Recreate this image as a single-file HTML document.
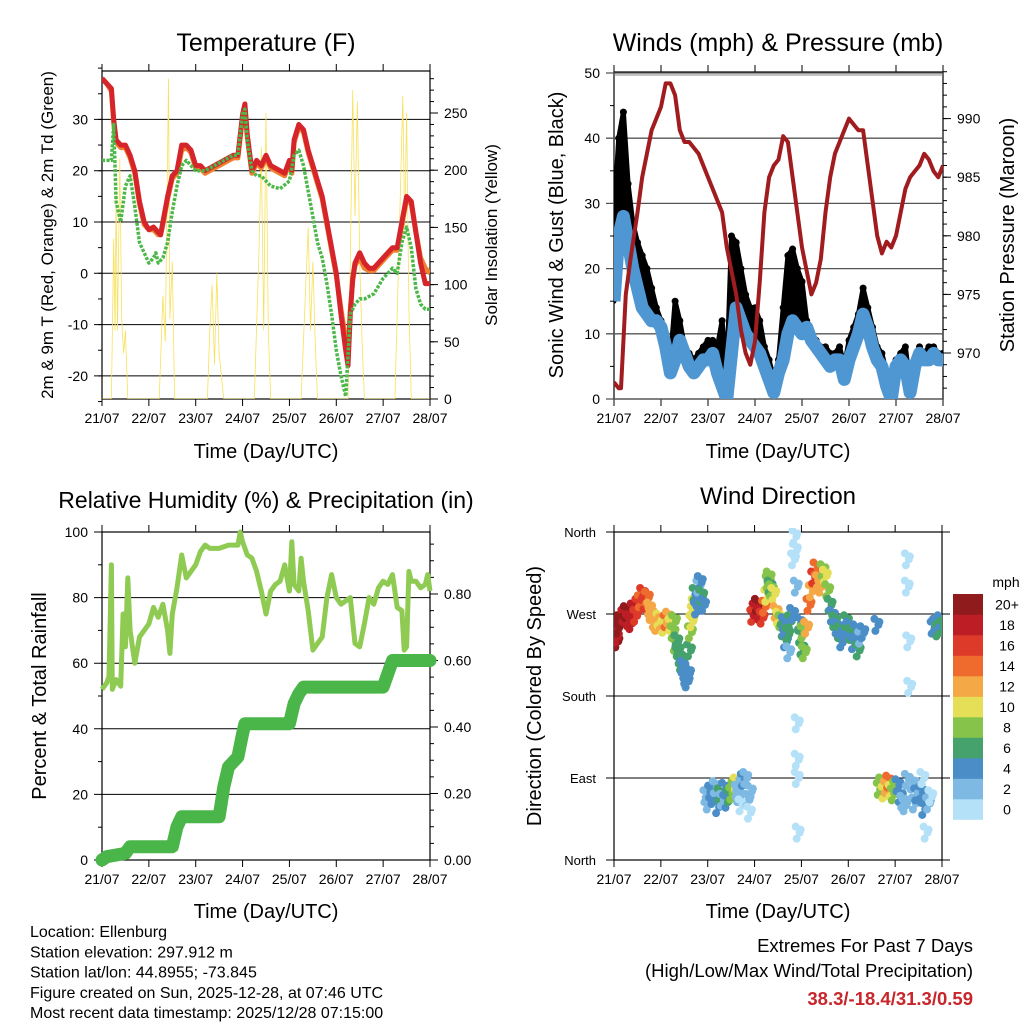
<!DOCTYPE html>
<html><head><meta charset="utf-8"><style>
html,body{margin:0;padding:0;background:#fff;}
svg{display:block;font-family:"Liberation Sans",sans-serif;}
</style></head><body>
<svg id="fig" width="1024" height="1024" viewBox="0 0 1024 1024" xmlns="http://www.w3.org/2000/svg">
<rect width="1024" height="1024" fill="#fff"/>
<g id="layer"></g>
</svg>
<script>
// ---------- DATA ----------
const dayLabels = ["21/07","22/07","23/07","24/07","25/07","26/07","27/07","28/07"];
const tempT = [0,0.1,0.2,0.25,0.3,0.4,0.5,0.6,0.7,0.8,0.9,1.0,1.1,1.2,1.25,1.3,1.4,1.5,1.6,1.7,1.8,1.9,2.0,2.1,2.2,2.4,2.6,2.8,2.9,3.0,3.05,3.1,3.2,3.3,3.4,3.5,3.6,3.8,3.9,4.0,4.05,4.1,4.2,4.3,4.4,4.5,4.6,4.7,4.8,4.9,5.0,5.1,5.2,5.25,5.3,5.35,5.4,5.5,5.6,5.7,5.8,6.0,6.2,6.3,6.4,6.5,6.6,6.7,6.8,6.9,7.0];
const temp2m = [38,37,36,30,26,25,25,23,20,14,10,8.5,9,8,7.5,10,15,19,20,25,25,24,21,21,20,21,22,23,23,31,33,27,20,22,21,23,21,20,19.5,22,20,26,29,28,24,21,18,15,10,5,0,-8,-15,-18,-8,-1,2,4,2,1,1,3,5,5,10,15,14,8,2,-2,-2];
const temp9m = [38,37,35.5,29.5,25.5,24.5,24.5,22.5,19.5,13.5,9.5,8.5,8.5,7.5,7.5,9.5,14.5,18.5,19.5,24,24.5,23.5,20.5,20.5,19.5,20.5,21.5,22.5,22.5,30.5,32.5,26.5,19.5,21.5,20.5,22.5,20.5,19.5,19,21.5,19.5,25.5,28.5,27.5,23.5,20.5,17.5,14.5,9.5,4.5,-0.5,-7,-13,-16,-7,-1.5,1.5,3,1,0.5,0.5,2.5,4.5,4.5,9.5,14.5,13.5,8,3,1,0];
const dewT = [0,0.2,0.25,0.3,0.4,0.5,0.6,0.7,0.8,0.9,1.0,1.1,1.15,1.2,1.3,1.4,1.5,1.6,1.7,1.8,2.0,2.2,2.4,2.6,2.8,2.9,3.0,3.05,3.1,3.2,3.3,3.4,3.5,3.6,3.8,4.0,4.1,4.2,4.3,4.4,4.5,4.6,4.7,4.8,4.9,5.0,5.1,5.2,5.3,5.4,5.5,5.6,5.8,6.0,6.2,6.3,6.4,6.5,6.6,6.7,6.8,6.9,7.0];
const dew2m = [22,22,29,14,10,17,19,13,6,4,2,3,4,2,3,6,12,17,21,22,20,20,21,22,23,23,31,32,26,20,19,19,18,17,16.5,18,23,24,21,16,11,6,3,-2,-8,-15,-20,-24,-8,-6,-5,-5,-4,-1,1,0,6,9,5,-3,-6,-7,-7];
const solarT = [0,0.2,0.25,0.28,0.3,0.33,0.38,0.42,0.46,0.5,0.55,1.22,1.3,1.35,1.42,1.45,1.5,1.55,2.25,2.3,2.35,2.4,2.45,2.5,2.6,3.25,3.35,3.4,3.45,3.5,3.55,3.6,4.25,4.35,4.4,4.45,4.5,4.55,4.6,5.25,5.3,5.35,5.4,5.45,5.5,5.55,5.6,6.25,6.35,6.42,6.46,6.5,6.55,6.6,7.0];
const solarV = [0,0,140,60,180,60,210,70,40,60,0,0,90,50,280,70,120,0,0,60,100,30,110,40,0,0,130,220,60,250,60,0,0,100,150,60,120,50,0,0,120,270,160,260,120,50,0,0,150,265,150,250,80,0,0];
const windT = [0,.1,.2,.3,.4,.5,.6,.7,.8,.9,1,1.1,1.2,1.3,1.4,1.5,1.6,1.7,1.8,1.9,2,2.1,2.2,2.3,2.4,2.5,2.6,2.7,2.8,2.9,3,3.1,3.2,3.3,3.4,3.5,3.6,3.7,3.8,3.9,4,4.1,4.2,4.3,4.4,4.5,4.6,4.7,4.8,4.9,5,5.1,5.2,5.3,5.4,5.5,5.6,5.7,5.8,5.9,6,6.1,6.2,6.3,6.4,6.5,6.6,6.7,6.8,6.9,7];
const windSpd = [15,25,28,24,20,17,14,13,12,12,11,8,4,6,9,7,5,4,5,6,6,7,4,2,0,7,14,12,10,9,8,7,5,3,1,4,6,10,12,11,10,11,9,8,7,6,5,6,6,3,6,8,10,13,11,8,6,5,2,0,5,6,5,1,5,7,6,6,7,6,6];
const windGust = [28,40,44,33,27,24,22,20,17,14,12,10,6,15,12,8,7,6,7,8,9,9,8,12,4,25,24,20,16,14,14,12,8,6,3,6,14,22,23,20,18,12,10,9,8,8,7,7,8,5,9,11,13,17,14,11,8,7,4,2,6,7,8,2,6,8,7,8,8,7,7];
const presT = [0,.1,.15,.2,.25,.35,.5,.6,.7,.8,.9,1,1.1,1.2,1.3,1.4,1.5,1.6,1.7,1.8,1.9,2,2.1,2.2,2.3,2.4,2.5,2.6,2.7,2.8,2.9,3,3.1,3.2,3.3,3.4,3.5,3.6,3.7,3.8,3.9,4,4.1,4.2,4.3,4.4,4.5,4.6,4.7,4.8,4.9,5,5.1,5.2,5.3,5.4,5.5,5.6,5.7,5.8,5.9,6,6.1,6.2,6.3,6.4,6.5,6.6,6.7,6.8,6.9,7];
const presV = [967.5,967,967,971,975,978,982,985,987,989,990,991,993,993,992,989,988,988,987.5,987,986,985,984,983,982,979,977,975,972,970,969,971,976,982,985,986,986.5,988.5,988,985,982,979,977,975,976,978,982,985,987,988,989,990,989.5,989,989,986,983,980,978.5,979.5,979,980,982,984,985,985.5,986,987,986.5,985.5,985,986];
const rhT = [0,.1,.15,.2,.22,.3,.4,.45,.5,.55,.6,.7,.8,.9,1,1.1,1.2,1.3,1.4,1.45,1.5,1.6,1.7,1.8,1.9,2,2.1,2.2,2.3,2.5,2.7,2.9,2.95,3,3.1,3.2,3.3,3.4,3.5,3.6,3.7,3.8,3.9,4,4.05,4.1,4.2,4.25,4.3,4.4,4.5,4.6,4.7,4.8,4.9,5,5.1,5.2,5.3,5.4,5.5,5.6,5.7,5.8,5.9,6,6.1,6.2,6.3,6.4,6.45,6.5,6.55,6.6,6.7,6.8,6.9,6.95,7];
const rhV = [52,54,56,90,52,55,53,75,65,86,70,60,68,70,72,77,74,78,70,63,75,83,93,86,88,90,94,96,95,95,96,96,100,97,93,92,88,82,75,82,84,85,90,82,97,84,82,92,85,76,64,66,68,80,87,80,78,79,80,66,65,72,80,78,83,85,84,87,77,76,64,65,88,85,85,83,84,87,82];
const precT = [0,.1,.5,.6,1.5,1.6,1.7,2.5,2.6,2.7,2.9,3.0,3.05,4.0,4.1,4.2,4.3,6.0,6.1,6.2,7.0];
const precV = [0,.01,.02,.04,.04,.10,.13,.13,.22,.28,.31,.38,.41,.41,.47,.50,.52,.52,.56,.60,.60];
const dirT = [0.02,0.05,0.08,0.1,0.04,0.07,0.2,0.25,0.3,0.35,0.4,0.45,0.5,0.55,0.6,0.65,0.7,0.75,0.78,0.85,0.9,0.95,1.0,1.05,1.1,1.15,1.2,1.25,1.28,1.3,1.33,1.36,1.4,1.43,1.46,1.5,1.52,1.55,1.58,1.6,1.62,1.65,1.68,1.7,1.72,1.75,1.78,1.8,1.83,1.86,1.9,1.95,2.0,2.05,2.1,2.15,2.2,2.25,2.3,2.35,2.4,2.45,2.5,2.55,2.6,2.62,2.65,2.7,2.72,2.75,2.8,2.85,2.88,2.9,2.95,3.0,3.05,3.1,3.15,3.2,3.25,3.28,3.3,3.32,3.35,3.4,3.45,3.5,3.55,3.6,3.62,3.65,3.7,3.72,3.75,3.8,3.82,3.85,3.86,3.88,3.9,3.9,3.9,3.92,3.95,3.97,4.0,4.02,4.05,4.1,4.15,4.2,4.25,4.3,4.35,4.4,4.45,4.5,4.55,4.6,4.65,4.7,4.75,4.8,4.85,4.9,4.95,5.0,5.05,5.1,5.15,5.2,5.25,5.3,5.6,5.65,5.7,5.75,5.8,5.85,5.9,5.95,6.0,6.05,6.1,6.15,6.2,6.25,6.25,6.25,6.28,6.3,6.35,6.4,6.45,6.5,6.55,6.58,6.6,6.65,6.7,6.75,6.8,6.85,6.9,6.95,7.0];
const dirV = [250,240,258,262,245,255,268,272,263,260,275,268,280,284,292,282,288,276,270,262,258,264,260,256,262,266,258,250,262,236,240,230,222,215,212,206,200,196,205,230,250,262,272,280,292,276,285,300,305,290,280,70,62,75,68,80,58,72,66,78,64,70,73,80,84,76,70,60,82,88,90,66,52,75,268,275,280,270,266,278,290,305,310,300,296,292,272,266,262,252,260,240,248,228,262,270,330,355,340,300,150,110,90,30,260,245,232,250,228,255,280,295,310,320,306,300,318,312,296,280,268,262,255,250,240,245,262,255,248,238,252,230,244,250,258,78,84,74,80,86,76,72,80,82,70,64,60,88,330,300,240,190,84,62,72,80,74,90,56,30,62,70,255,258,252,262,256,260,250,258,254];
const dirS = [20,20,20,20,19,20,19,20,18,19,18,17,16,15,17,16,14,12,12,12,13,11,12,10,14,12,10,9,9,8,7,6,7,6,5,4,5,4,4,6,8,10,11,10,7,5,4,3,4,6,5,3,2,4,5,3,4,6,2,5,4,6,9,8,10,2,3,1,3,4,3,2,1,2,16,18,20,19,17,15,10,9,8,7,9,11,12,10,8,7,5,4,6,3,6,5,1,0,1,2,1,0,1,0,5,7,6,8,9,13,14,12,16,15,13,12,9,10,8,7,5,6,5,7,5,4,6,4,7,5,4,6,3,5,4,8,9,10,12,14,11,9,8,5,4,3,2,3,0,1,0,1,3,2,4,3,5,1,4,0,2,1,4,5,6,5,6,7,6,5,6];
const speedBins = ["0","2","4","6","8","10","12","14","16","18","20+"];
const binColors = ["#b4e1f8","#7db9e3","#4a8dc7","#45a26d","#86c34b","#e5df58","#f4a846","#ee6a2d","#de3a2a","#bd1e25","#8f1b1d"];

// ---------- DRAW ----------
const NS="http://www.w3.org/2000/svg";
const L=document.getElementById('layer');
function el(tag,attrs,parent){const e=document.createElementNS(NS,tag);for(const k in attrs)e.setAttribute(k,attrs[k]);(parent||L).appendChild(e);return e;}
function txt(s,x,y,size,anchor,parent,extra){const t=el('text',Object.assign({x:x,y:y,'font-size':size,'text-anchor':anchor||'middle',fill:'#000'},extra||{}),parent);t.textContent=s;return t;}
function pts(xs,ys,fx,fy){return xs.map((t,i)=>fx(t).toFixed(1)+','+fy(ys[i]).toFixed(1)).join(' ');}

function frame(g,x0,x1,y0,y1){
  const xs=d=>x0+d/7*(x1-x0);
  for(let d=0;d<=7;d++){
    const x=xs(d);
    el('line',{x1:x,y1:y0,x2:x,y2:y0-7,stroke:'#000','stroke-width':1},g);
    el('line',{x1:x,y1:y1,x2:x,y2:y1+7,stroke:'#000','stroke-width':1},g);
    const t=txt(dayLabels[d],x,y1+24,14,'middle',g);
    
    
  }
  el('rect',{x:x0,y:y0,width:x1-x0,height:y1-y0,fill:'none',stroke:'#000','stroke-width':1.2},g);
  return xs;
}

// ===== Panel 1: Temperature =====
(function(){
  const g=el('g',{});
  
  
  const x0=102,x1=430,y0=71,y1=399;
  const yT=v=>273.3-v*5.13, yS=v=>399-v*1.144;
  const xs=frame(g,x0,x1,y0,y1);
  [-20,-10,0,10,20,30].forEach(v=>{el('line',{x1:x0-8,y1:yT(v),x2:x1,y2:yT(v),stroke:'#000','stroke-width':1},g);txt(String(v),x0-14,yT(v)+5,14,'end',g);});
  for(let v=-25;v<=40;v+=5){el('line',{x1:x0-4,y1:yT(v),x2:x0,y2:yT(v),stroke:'#000'},g);}
  [0,50,100,150,200,250].forEach(v=>{el('line',{x1:x1,y1:yS(v),x2:x1+8,y2:yS(v),stroke:'#000'},g);txt(String(v),x1+14,yS(v)+5,14,'start',g);});
  for(let v=10;v<=280;v+=10){el('line',{x1:x1,y1:yS(v),x2:x1+4,y2:yS(v),stroke:'#000'},g);}
  const cp=el('clipPath',{id:'c1'},g);el('rect',{x:x0,y:y0,width:x1-x0,height:y1-y0},cp);
  const cg=el('g',{'clip-path':'url(#c1)'},g);
  const s=el('polyline',{points:pts(solarT,solarV,xs,yS),fill:'none',stroke:'#f8e15a','stroke-width':0.8},cg);
  
  const o=el('polyline',{points:pts(tempT,temp9m,xs,yT),fill:'none',stroke:'#f07f2f','stroke-width':5,'stroke-linejoin':'round'},cg);
  
  const r=el('polyline',{points:pts(tempT,temp2m,xs,yT),fill:'none',stroke:'#d6252a','stroke-width':5,'stroke-linejoin':'round'},cg);
  
  const d=el('polyline',{points:pts(dewT,dew2m,xs,yT),fill:'none',stroke:'#4cb848','stroke-width':3.5,'stroke-dasharray':'3 1.5','stroke-linejoin':'round'},cg);
  
  const t=txt('Temperature (F)',266,51,25,'middle',g);
  txt('Time (Day/UTC)',266,458,20,'middle',g);
  const yl=txt('2m & 9m T (Red, Orange) & 2m Td (Green)',0,0,17,'middle',g,{transform:'translate(53,235) rotate(-90)'});
  
  const yr=txt('Solar Insolation (Yellow)',0,0,17,'middle',g,{transform:'translate(497,235) rotate(-90)'});
  
})();

// ===== Panel 2: Winds =====
(function(){
  const g=el('g',{});
  
  
  const x0=614,x1=943,y0=72,y1=399;
  const yW=v=>399-v*6.52, yP=v=>353-(v-970)*11.72;
  const xs=frame(g,x0,x1,y0,y1);
  [0,10,20,30,40,50].forEach(v=>{el('line',{x1:x0-8,y1:yW(v),x2:x1,y2:yW(v),stroke:'#555','stroke-width':1.3},g);txt(String(v),x0-14,yW(v)+5,14,'end',g);});
  el('line',{x1:x0,y1:yW(50)+2,x2:x1,y2:yW(50)+2,stroke:'#888'},g);
  for(let v=5;v<=45;v+=10){el('line',{x1:x0-4,y1:yW(v),x2:x0,y2:yW(v),stroke:'#000'},g);}
  [970,975,980,985,990].forEach(v=>{el('line',{x1:x1,y1:yP(v),x2:x1+8,y2:yP(v),stroke:'#000'},g);txt(String(v),x1+14,yP(v)+5,14,'start',g);});
  for(let v=967;v<=994;v++){el('line',{x1:x1,y1:yP(v),x2:x1+4,y2:yP(v),stroke:'#000'},g);}
  const cp=el('clipPath',{id:'c2'},g);el('rect',{x:x0,y:y0,width:x1-x0,height:y1-y0},cp);
  const cg=el('g',{'clip-path':'url(#c2)'},g);
  const up=windT.map((t,i)=>xs(t).toFixed(1)+','+yW(windGust[i]).toFixed(1));
  const dn=windT.map((t,i)=>xs(t).toFixed(1)+','+yW(windSpd[i]).toFixed(1)).reverse();
  const gb=el('polygon',{points:up.concat(dn).join(' '),fill:'#000',stroke:'#000','stroke-width':5,'stroke-linejoin':'round'},cg);
  
  windT.forEach((t,i)=>{
    const c=el('circle',{cx:xs(t),cy:yW(windGust[i]),r:3.5,fill:'#000'},cg);
    
    
  });
  const bl=el('polyline',{points:pts(windT,windSpd,xs,yW),fill:'none',stroke:'#4f97d3','stroke-width':13,'stroke-linejoin':'round'},cg);
  
  const pl=el('polyline',{points:pts(presT,presV,xs,yP),fill:'none',stroke:'#a01c1f','stroke-width':4,'stroke-linejoin':'round'},cg);
  
  txt('Winds (mph) & Pressure (mb)',778,51,25,'middle',g);
  txt('Time (Day/UTC)',778,458,20,'middle',g);
  txt('Sonic Wind & Gust (Blue, Black)',0,0,20,'middle',g,{transform:'translate(563,235) rotate(-90)'});
  txt('Station Pressure (Maroon)',0,0,20,'middle',g,{transform:'translate(1014,235) rotate(-90)'});
})();

// ===== Panel 3: RH & Precip =====
(function(){
  const g=el('g',{});
  
  
  const x0=102,x1=430,y0=532,y1=860;
  const yR=v=>860-v*3.28, yPr=v=>860-v*332.5;
  const xs=frame(g,x0,x1,y0,y1);
  [0,20,40,60,80,100].forEach(v=>{el('line',{x1:x0-8,y1:yR(v),x2:x1,y2:yR(v),stroke:'#000','stroke-width':1},g);txt(String(v),x0-14,yR(v)+5,14,'end',g);});
  for(let v=10;v<=90;v+=20){el('line',{x1:x0-4,y1:yR(v),x2:x0,y2:yR(v),stroke:'#000'},g);}
  [0,0.2,0.4,0.6,0.8].forEach(v=>{el('line',{x1:x1,y1:yPr(v),x2:x1+8,y2:yPr(v),stroke:'#000'},g);txt(v.toFixed(2),x1+14,yPr(v)+5,14,'start',g);});
  for(let v=0.05;v<=0.98;v+=0.05){el('line',{x1:x1,y1:yPr(v),x2:x1+4,y2:yPr(v),stroke:'#000'},g);}
  const rl=el('polyline',{points:pts(rhT,rhV,xs,yR),fill:'none',stroke:'#8fcb53','stroke-width':5,'stroke-linejoin':'round'},g);
  
  const pl=el('polyline',{points:pts(precT,precV,xs,yPr),fill:'none',stroke:'#4ab548','stroke-width':13,'stroke-linejoin':'round','stroke-linecap':'round'},g);
  
  txt('Relative Humidity (%) & Precipitation (in)',266,508,23,'middle',g);
  txt('Time (Day/UTC)',266,918,20,'middle',g);
  txt('Percent & Total Rainfall',0,0,20,'middle',g,{transform:'translate(46,696) rotate(-90)'});
})();

// ===== Panel 4: Wind direction =====
(function(){
  const g=el('g',{});
  
  
  const x0=614,x1=942,y0=532,y1=860;
  const yD=v=>860-v*328/360;
  const xs=frame(g,x0,x1,y0,y1);
  const names=['North','East','South','West','North'];
  [0,90,180,270,360].forEach((v,i)=>{el('line',{x1:x0-8,y1:yD(v),x2:x1+8,y2:yD(v),stroke:'#000','stroke-width':1},g);txt(names[i],x0-18,yD(v)+5,13,'end',g);});
  const cp=el('clipPath',{id:'c4'},g);el('rect',{x:x0,y:y0-4,width:x1-x0,height:y1-y0+8},cp);
  const cg=el('g',{'clip-path':'url(#c4)'},g);
  const offs=[[-2,-6],[2,0],[-1,6],[3,-3]];
  dirT.forEach((t,i)=>{
    const b=Math.min(10,Math.floor(dirS[i]/2));
    const grp=el('g',{fill:binColors[b]},cg);
    
    
    offs.forEach(o=>el('circle',{cx:xs(t)+o[0],cy:yD(dirV[i])+o[1],r:4},grp));
  });
  const cb=el('g',{},g);
  
  
  const top=594,h=20.5;
  for(let k=0;k<11;k++){
    const yy=top+(10-k)*h;
    el('rect',{x:953,y:yy,width:30,height:h+0.3,fill:binColors[k]},cb);
    txt(speedBins[k],1007,yy+h/2+5,14,'middle',cb);
  }
  txt('mph',1006,587,14,'middle',cb);
  txt('Wind Direction',778,504,24,'middle',g);
  txt('Time (Day/UTC)',778,918,20,'middle',g);
  txt('Direction (Colored By Speed)',0,0,20,'middle',g,{transform:'translate(541,696) rotate(-90)'});
})();

// ===== Footer =====
(function(){
  const g=el('g',{});
  
  
  ["Location: Ellenburg","Station elevation: 297.912 m","Station lat/lon: 44.8955; -73.845","Figure created on Sun, 2025-12-28, at 07:46 UTC","Most recent data timestamp: 2025/12/28 07:15:00"].forEach((s,i)=>txt(s,30,937+i*20.3,16,'start',g));
  const e=el('g',{});
  
  
  txt('Extremes For Past 7 Days',973,952,18.5,'end',e);
  txt('(High/Low/Max Wind/Total Precipitation)',973,977,18.5,'end',e);
  txt('38.3/-18.4/31.3/0.59',973,1005,18.5,'end',e,{fill:'#c8262b','font-weight':'bold'});
})();
</script>
</body></html>
